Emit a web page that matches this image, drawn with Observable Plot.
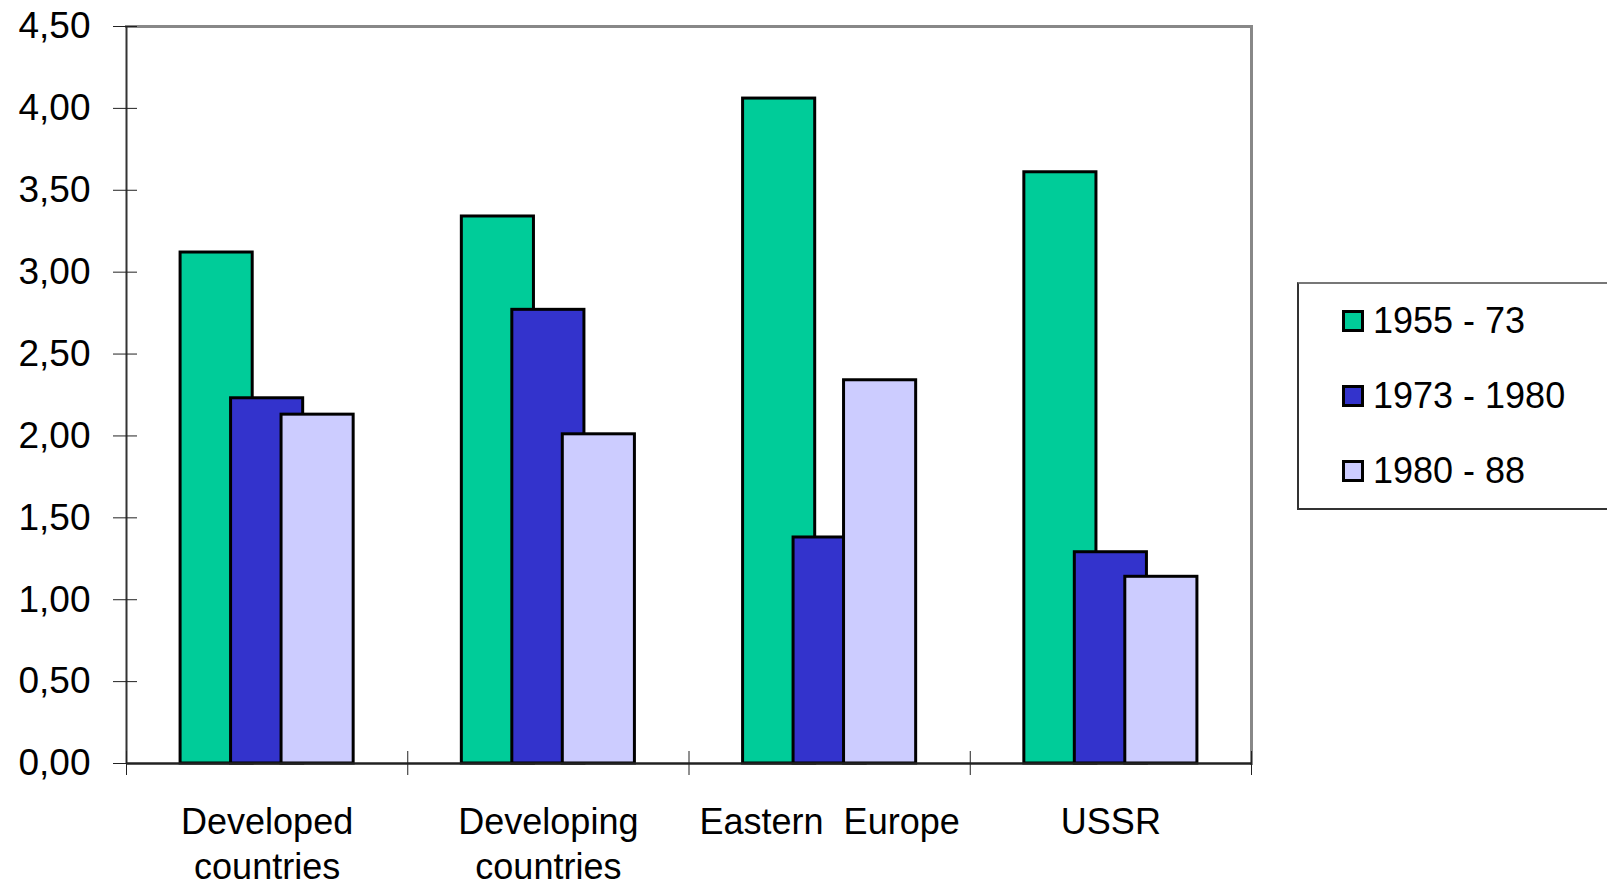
<!DOCTYPE html>
<html>
<head>
<meta charset="utf-8">
<script src="https://cdn.jsdelivr.net/npm/d3@7"></script>
<script src="https://cdn.jsdelivr.net/npm/@observablehq/plot@0.6"></script>
<style>
  html, body { margin: 0; padding: 0; background: #fff; }
  body { font-family: "Liberation Sans", Arial, sans-serif; }
  #wrap { position: relative; width: 1607px; height: 886px; overflow: hidden; background: #fff; }
  #chart { position: absolute; left: 0; top: 0; }
  .legend { position: absolute; left: 1297px; top: 282px; width: 360px; height: 228px;
            box-sizing: border-box; border: 2px solid #333; border-top-color: #777; background: #fff; }
  .row { position: absolute; left: 43px; height: 36px; font-size: 36px; line-height: 36px; color: #000; white-space: nowrap; }
  .sw { position: absolute; left: 0; top: 7px; width: 22px; height: 22px; box-sizing: border-box; border: 3px solid #000; }
  .lab { position: absolute; left: 31px; top: 0; }
</style>
</head>
<body>
<div id="wrap">
  <div id="chart"></div>
  <div class="legend" id="legend"></div>
</div>
<script>
// ---- data ----
const categories = ["Developed\ncountries", "Developing\ncountries", "Eastern  Europe", "USSR"];
const series = ["1955 - 73", "1973 - 1980", "1980 - 88"];
const colors = ["#00CC99", "#3333CC", "#CCCCFF"];
const values1955_73 = [3.12, 3.34, 4.06, 3.61];
const values1973_80 = [2.23, 2.77, 1.38, 1.29];
const values1980_88 = [2.13, 2.01, 2.34, 1.14];
const yTicks = [0, 0.5, 1, 1.5, 2, 2.5, 3, 3.5, 4, 4.5];

// ---- layout (Excel-style clustered column: gap width 150%, overlap 30%) ----
const gapWidth = 1.5, overlap = 0.3;
const n = series.length;
const barW = 1 / (n - (n - 1) * overlap + gapWidth);
const stepW = barW * (1 - overlap);
const clusterW = barW * (n - (n - 1) * overlap);

const seriesValues = [values1955_73, values1973_80, values1980_88];
const rows = categories.flatMap((c, i) => series.map((s, j) => ({
  i, s, v: seriesValues[j][i],
  x1: i + 0.5 - clusterW / 2 + j * stepW,
  x2: i + 0.5 - clusterW / 2 + j * stepW + barW
})));
const catIdx = categories.map((c, i) => i);
const boundaries = d3.range(categories.length + 1);

const fmt = d => d.toFixed(2).replace(".", ",");

const chart = Plot.plot({
  width: 1607,
  height: 886,
  marginLeft: 126,
  marginRight: 356,
  marginTop: 26,
  marginBottom: 123,
  style: { fontFamily: "Liberation Sans, Arial, sans-serif", fontSize: "36px", background: "#fff", color: "#000" },
  x: { domain: [0, categories.length], axis: null },
  y: { domain: [0, 4.5], axis: null },
  color: { domain: series, range: colors },
  marks: [
    Plot.frame({ anchor: "top", stroke: "#888", strokeWidth: 3 }),
    Plot.frame({ anchor: "right", stroke: "#888", strokeWidth: 3 }),
    Plot.rectY(rows, { x1: "x1", x2: "x2", y1: 0, y2: "v", fill: "s", stroke: "#000", strokeWidth: 3 }),
    Plot.ruleX([0], { stroke: "#333", strokeWidth: 2 }),
    Plot.ruleY([0], { stroke: "#222", strokeWidth: 2.5 }),
    Plot.axisY(yTicks, { tickSize: 24, dx: 11, tickPadding: 23, tickFormat: fmt, stroke: "#222", fill: "#000", fontSize: 37, label: null }),
    Plot.axisX(boundaries, { tickSize: 24, dy: -12, fill: "none", stroke: "#222", label: null }),
    Plot.text(catIdx, { x: i => i + 0.5, text: i => categories[i], frameAnchor: "bottom", lineAnchor: "top", dy: 39, fontSize: 36, lineHeight: 1.25, fill: "#000" })
  ]
});
document.getElementById("chart").appendChild(chart);
chart.querySelectorAll("text").forEach(t => t.setAttribute("xml:space", "preserve"));
chart.querySelectorAll("text").forEach(t => t.style.whiteSpace = "pre");

// ---- legend ----
const legend = document.getElementById("legend");
series.forEach((s, j) => {
  const row = document.createElement("div");
  row.className = "row";
  row.style.top = (18.5 + 75 * j) + "px";
  const sw = document.createElement("span");
  sw.className = "sw";
  sw.style.background = colors[j];
  const lab = document.createElement("span");
  lab.className = "lab";
  lab.textContent = s;
  row.appendChild(sw);
  row.appendChild(lab);
  legend.appendChild(row);
});
</script>
</body>
</html>
